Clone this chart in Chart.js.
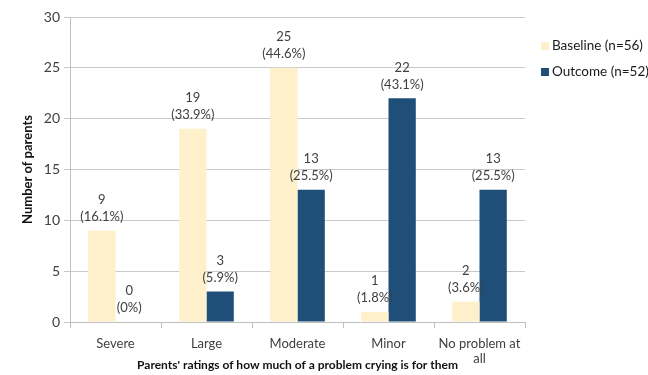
<!DOCTYPE html>
<html>
<head>
<meta charset="utf-8">
<script src="https://cdn.jsdelivr.net/npm/chart.js@4"></script>
<style>
  html, body { margin: 0; padding: 0; background: #fff; }
  #wrap { width: 648px; height: 375px; }
</style>
</head>
<body>
<div id="wrap"><canvas id="cryChart" width="648" height="375"></canvas></div>
<script>
// data
let categories = ["Severe", "Large", "Moderate", "Minor", ["No problem at", "all"]];
let baselineCounts = [9, 19, 25, 1, 2];
let baselinePct = ["16.1%", "33.9%", "44.6%", "1.8%", "3.6%"];
let outcomeCounts = [0, 3, 13, 22, 13];
let outcomePct = ["0%", "5.9%", "25.5%", "43.1%", "25.5%"];
let seriesNames = ["Baseline (n=56)", "Outcome (n=52)"];
let seriesColors = ["#FDF0CA", "#1F4E79"];
let yTicks = [0, 5, 10, 15, 20, 25, 30];

const fontFamily = "Lato, 'Open Sans', sans-serif";
const textColor = "#404040";

//value + percent above each bar
let barLabels = {
    id: "barLabels",
    afterDatasetsDraw(chart) {
        let ctx = chart.ctx;
        let pcts = [baselinePct, outcomePct];
        ctx.save();
        ctx.font = "13px " + fontFamily;
        ctx.fillStyle = textColor;
        ctx.textAlign = "center";
        ctx.textBaseline = "middle";
        chart.data.datasets.forEach((ds, di) => {
            chart.getDatasetMeta(di).data.forEach((bar, i) => {
                ctx.fillText(String(ds.data[i]), bar.x, bar.y - 31);
                ctx.fillText("(" + pcts[di][i] + ")", bar.x, bar.y - 14);
            });
        });
        ctx.restore();
    },
};

//legend on the right, drawn by hand for placement
let sideLegend = {
    id: "sideLegend",
    afterDraw(chart) {
        let ctx = chart.ctx;
        ctx.save();
        ctx.font = "13.5px " + fontFamily;
        ctx.textBaseline = "middle";
        seriesNames.forEach((name, i) => {
            let y = 46 + i * 26;
            ctx.fillStyle = seriesColors[i];
            ctx.fillRect(541, y - 4, 8, 8);
            ctx.fillStyle = "#1a1a1a";
            ctx.fillText(name, 552, y);
        });
        ctx.restore();
    },
};

let chartData = {
    labels: categories,
    datasets: [{
        label: seriesNames[0],
        data: baselineCounts,
        backgroundColor: seriesColors[0],
        categoryPercentage: 0.6,
        barPercentage: 1.0,
    }, {
        label: seriesNames[1],
        data: outcomeCounts,
        backgroundColor: seriesColors[1],
        categoryPercentage: 0.6,
        barPercentage: 1.0,
    }, ],
};

let chartOptions = {
    responsive: false,
    animation: false,
    layout: {
        padding: { top: 17, right: 123, bottom: 0, left: 0 },
    },
    plugins: {
        legend: { display: false },
        tooltip: { enabled: false },
    },
    scales: {
        x: {
            grid: {
                offset: true,
                drawOnChartArea: false,
                drawTicks: true,
                tickLength: 6,
                color: "#BFBFBF",
            },
            border: { color: "#BFBFBF" },
            ticks: {
                color: textColor,
                font: { family: fontFamily, size: 13, lineHeight: 1.15 },
                maxRotation: 0,
                autoSkip: false,
                padding: 8,
            },
            title: {
                display: true,
                text: "Parents' ratings of how much of a problem crying is for them",
                color: "#111",
                font: { family: fontFamily, size: 12, weight: "bold" },
                padding: { top: 0, bottom: 3 },
            },
            afterFit: (scale) => { scale.height = 53; },
        },
        y: {
            min: 0,
            max: 30,
            afterBuildTicks: (scale) => { scale.ticks = yTicks.map((v) => ({ value: v })); },
            grid: {
                color: "#C8C8C8",
                tickLength: 6,
            },
            border: { color: "#BFBFBF" },
            ticks: {
                color: textColor,
                font: { family: fontFamily, size: 14 },
                padding: 4,
            },
            title: {
                display: true,
                text: "Number of parents",
                color: "#111",
                font: { family: fontFamily, size: 13, weight: "bold" },
                padding: { top: 20, bottom: 0 },
            },
            afterFit: (scale) => { scale.width = 70; },
        },
    },
};

new Chart(document.getElementById("cryChart").getContext("2d"), {
    type: "bar",
    data: chartData,
    options: chartOptions,
    plugins: [barLabels, sideLegend],
});
</script>
</body>
</html>
